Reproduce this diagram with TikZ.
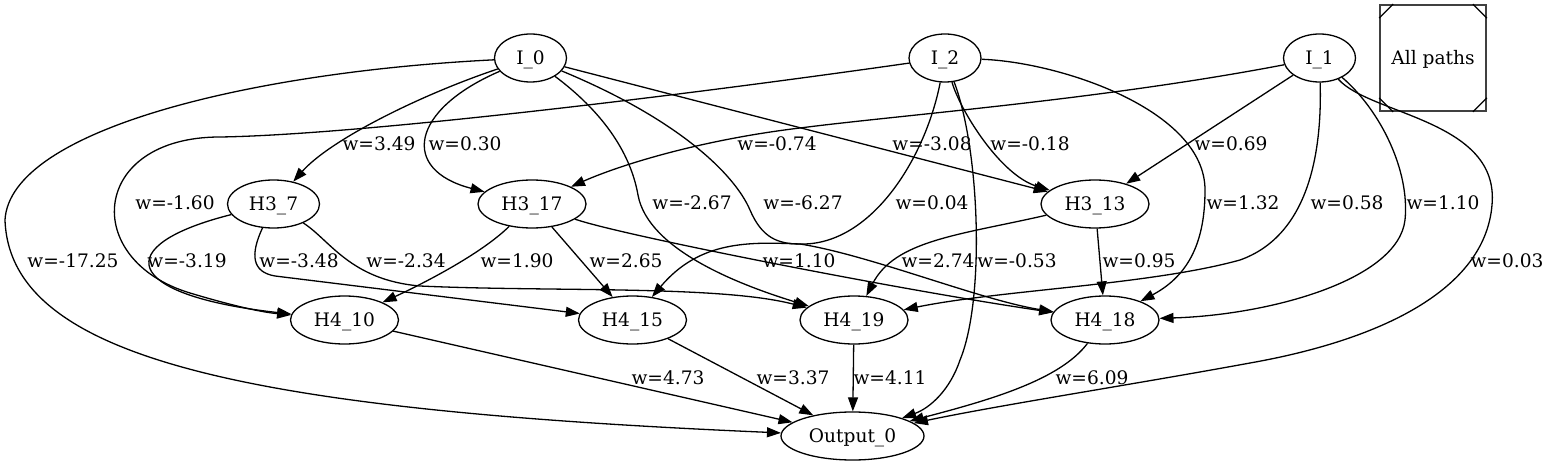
\documentclass[tikz,border=0pt]{standalone}
\usepackage{fontspec}
\setmainfont{DejaVu Serif}
\usetikzlibrary{shapes.geometric,arrows.meta}
\begin{document}
\begin{tikzpicture}[x=1pt,y=-1pt,line width=1.3pt,
  font=\fontsize{18.6pt}{20pt}\selectfont,
  nd/.style={ellipse,draw,inner sep=0pt,minimum height=48pt,text height=13.6pt,text depth=0pt},
  conn/.style={-{Triangle[length=14pt,width=10pt]}},
  lbl/.style={inner sep=0pt,text height=13.6pt,text depth=0pt}]
\useasboundingbox (0,0) rectangle (1547,465);
% nodes
\node[nd,minimum width=72pt]  (I0)   at (530.5,58) {I\_0};
\node[nd,minimum width=72pt]  (I2)   at (945,58)   {I\_2};
\node[nd,minimum width=72pt]  (I1)   at (1319.5,58) {I\_1};
\node[draw=black!75,line width=1.8pt,minimum width=106pt,minimum height=106pt,inner sep=0pt,text height=13.6pt,text depth=0pt] (leg) at (1433,58) {All paths};
\node[nd,minimum width=92pt]  (H37)  at (273.5,204) {H3\_7};
\node[nd,minimum width=108pt] (H317) at (532,204) {H3\_17};
\node[nd,minimum width=108pt] (H313) at (1095,204) {H3\_13};
\node[nd,minimum width=108pt] (H410) at (344.5,320) {H4\_10};
\node[nd,minimum width=108pt] (H415) at (632.5,320) {H4\_15};
\node[nd,minimum width=108pt] (H419) at (854,320) {H4\_19};
\node[nd,minimum width=108pt] (H418) at (1105,320) {H4\_18};
\node[nd,minimum width=143pt] (Out)  at (852.5,436) {Output\_0};
% legend corners
\draw ([yshift=-14pt]leg.north west) -- ([xshift=14pt]leg.north west);
\draw ([yshift=-14pt]leg.north east) -- ([xshift=-14pt]leg.north east);
\draw ([yshift=14pt]leg.south west) -- ([xshift=14pt]leg.south west);
\draw ([yshift=14pt]leg.south east) -- ([xshift=-14pt]leg.south east);
% edges from I_0
\draw[conn] (I0) .. controls (250,72) and (10,130) .. (5,220) .. controls (10,360) and (250,410) .. (Out);
\draw[conn] (I0) .. controls (420,95) and (330,140) .. (H37);
\draw[conn] (I0) .. controls (410,110) and (400,170) .. (H317);
\draw[conn] (I0) .. controls (600,110) and (630,150) .. (638,195) .. controls (648,250) and (740,285) .. (H419);
\draw[conn] (I0) .. controls (680,120) and (735,175) .. (750,210) .. controls (762,238) and (778,244) .. (800,244) .. controls (870,255) and (980,300) .. (H418);
\draw[conn] (I0) -- (H313);
% edges from I_2
\draw[conn] (I2) .. controls (650,100) and (350,135) .. (220,137) .. controls (90,137) and (80,260) .. (190,293) .. controls (230,305) and (260,312) .. (H410);
\draw[conn] (I2) .. controls (925,160) and (870,246) .. (800,244) .. controls (750,242) and (700,240) .. (H415);
\draw[conn] (I2) .. controls (960,110) and (1000,175) .. (H313);
\draw[conn] (I2) .. controls (980,150) and (985,300) .. (960,360) .. controls (950,390) and (930,408) .. (Out);
\draw[conn] (I2) .. controls (1060,62) and (1205,110) .. (1205,190) .. controls (1205,240) and (1190,275) .. (H418);
% edges from I_1
\draw[conn] (I1) .. controls (1100,100) and (900,115) .. (800,128) .. controls (700,140) and (620,165) .. (H317);
\draw[conn] (I1) -- (H313);
\draw[conn] (I1) .. controls (1322,150) and (1310,235) .. (1240,260) .. controls (1150,285) and (1000,290) .. (H419);
\draw[conn] (I1) .. controls (1380,110) and (1410,170) .. (1405,220) .. controls (1398,280) and (1270,315) .. (H418);
\draw[conn] (I1) .. controls (1370,115) and (1500,120) .. (1492,205) .. controls (1485,290) and (1380,340) .. (1250,363) .. controls (1130,385) and (1000,405) .. (Out);
% edges from H3
\draw[conn] (H37) .. controls (110,245) and (120,295) .. (H410);
\draw[conn] (H37) .. controls (250,255) and (252,272) .. (275,276) -- (H415);
\draw[conn] (H37) .. controls (330,240) and (350,280) .. (420,286) .. controls (550,292) and (720,285) .. (H419);
\draw[conn] (H317) .. controls (480,255) and (420,285) .. (H410);
\draw[conn] (H317) -- (H415);
\draw[conn] (H317) .. controls (620,235) and (900,290) .. (H418);
\draw[conn] (H313) .. controls (960,235) and (895,240) .. (H419);
\draw[conn] (H313) -- (H418);
% edges from H4
\draw[conn] (H410) -- (Out);
\draw[conn] (H415) -- (Out);
\draw[conn] (H419) -- (Out);
\draw[conn] (H418) .. controls (1060,380) and (990,400) .. (Out);
% labels
\node[lbl] (l1)  at (73,261)   {w=-17.25};
\node[lbl] (l2)  at (379,144)  {w=3.49};
\node[lbl] (l3)  at (465,144)  {w=0.30};
\node[lbl] (l4)  at (692,203)  {w=-2.67};
\node[lbl] (l5)  at (803,203)  {w=-6.27};
\node[lbl] (l6)  at (932,144)  {w=-3.08};
\node[lbl] (l7)  at (175,203)  {w=-1.60};
\node[lbl] (l8)  at (932,203)  {w=0.04};
\node[lbl] (l9)  at (1030,144) {w=-0.18};
\node[lbl] (l10) at (1017,261) {w=-0.53};
\node[lbl] (l11) at (1243,203) {w=1.32};
\node[lbl] (l12) at (777,144)  {w=-0.74};
\node[lbl] (l13) at (1231,144) {w=0.69};
\node[lbl] (l14) at (1347,203) {w=0.58};
\node[lbl] (l15) at (1443,203) {w=1.10};
\node[lbl] (l16) at (1507,261) {w=0.03};
\node[lbl] (l17) at (187,261)  {w=-3.19};
\node[lbl] (l18) at (299,261)  {w=-3.48};
\node[lbl] (l19) at (406,261)  {w=-2.34};
\node[lbl] (l20) at (517,261)  {w=1.90};
\node[lbl] (l21) at (626,261)  {w=2.65};
\node[lbl] (l22) at (799,261)  {w=1.10};
\node[lbl] (l23) at (938,261)  {w=2.74};
\node[lbl] (l24) at (1139,261) {w=0.95};
\node[lbl] (l25) at (668,378)  {w=4.73};
\node[lbl] (l26) at (793,378)  {w=3.37};
\node[lbl] (l27) at (890,378)  {w=4.11};
\node[lbl] (l28) at (1092,378) {w=6.09};
\end{tikzpicture}
\end{document}
